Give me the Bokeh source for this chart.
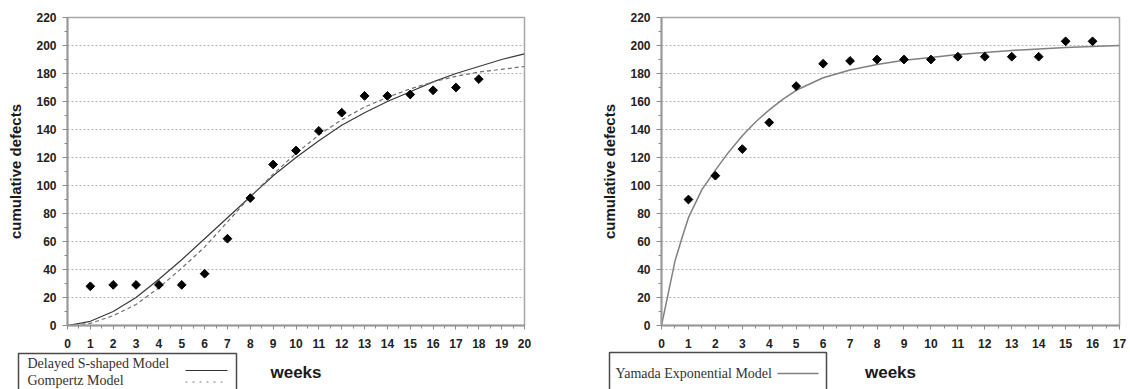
from bokeh.plotting import figure
from bokeh.models import Range1d, FixedTicker, GridBox
from bokeh.core.properties import value
from bokeh.embed import file_html
from bokeh.resources import INLINE

# ---------------- data ----------------
# Left chart: observed cumulative defects per week
weeks_left = list(range(1, 19))
defects_left = [28, 29, 29, 29, 29, 37, 62, 91, 115, 125, 139, 152, 164, 164, 165, 168, 170, 176]
# Left chart: model curves
curve_weeks_left = list(range(0, 21))
delayed_s = [0, 3, 10, 20, 33, 47, 62, 77, 92, 107, 120, 132, 143, 152, 160, 167, 174, 180, 185, 190, 194]
gompertz = [0, 1.5, 7, 15, 27, 41, 56, 74, 92, 108, 123, 136, 147, 156, 163, 169, 174, 178, 181, 183, 185]

# Right chart: observed cumulative defects per week
weeks_right = list(range(1, 17))
defects_right = [90, 107, 126, 145, 171, 187, 189, 190, 190, 190, 192, 192, 192, 192, 203, 203]
# Right chart: model curve
curve_weeks_right = [0, 0.25, 0.5, 0.75, 1, 1.5, 2, 2.5, 3, 3.5, 4, 4.5, 5, 6, 7, 8, 9, 10, 11, 12, 13, 14, 15, 16, 17]
yamada = [0, 23, 46, 62, 77, 97, 111, 124, 135.5, 145.5, 154, 161.5, 168, 177, 182.5, 186.5, 189.5, 191.5,
          193.5, 195, 196.5, 197.5, 198.5, 199.2, 200]

y_ticks = list(range(0, 221, 20))
y_label = "cumulative defects"
x_label = "weeks"
legend_left = ["Delayed S-shaped Model", "Gompertz Model"]
legend_right = ["Yamada Exponential Model"]

SANS = "Liberation Sans"
SERIF = "Liberation Serif"
FIG_H = 389
TOP = 17
BOTTOM = 64


def make_fig(width, x_end, left, right):
    p = figure(width=width, height=FIG_H, x_range=Range1d(0, x_end), y_range=Range1d(0, 220),
               output_backend="svg", toolbar_location=None,
               min_border_left=left, min_border_right=right, min_border_top=TOP, min_border_bottom=BOTTOM)
    p.frame_align = False
    p.background_fill_color = "white"
    p.border_fill_color = "white"
    p.outline_line_color = "#a8a8a8"
    p.outline_line_width = 1.5
    p.xgrid.visible = False
    p.ygrid.ticker = FixedTicker(ticks=y_ticks[1:-1])
    p.ygrid.grid_line_color = "#b5b5b5"
    p.ygrid.grid_line_dash = "2 2"
    p.ygrid.grid_line_width = 1
    p.xaxis.ticker = FixedTicker(ticks=list(range(0, x_end + 1)),
                                 minor_ticks=[i + 0.5 for i in range(x_end)])
    p.yaxis.ticker = FixedTicker(ticks=y_ticks, minor_ticks=list(range(10, 220, 20)))
    for ax in (p.xaxis[0], p.yaxis[0]):
        ax.axis_line_color = "#9a9a9a"
        ax.axis_line_width = 2
        ax.major_tick_line_color = "#8a8a8a"
        ax.minor_tick_line_color = "#8a8a8a"
        ax.major_tick_in = 0
        ax.minor_tick_in = 0
        ax.major_label_text_font = SANS
        ax.major_label_text_font_style = "bold"
        ax.major_label_text_font_size = "12px"
        ax.major_label_text_color = "#222222"
        ax.axis_label_text_font = SANS
        ax.axis_label_text_font_style = "bold"
        ax.axis_label_text_color = "#1a1a1a"
    p.yaxis.major_tick_out = 5
    p.yaxis.minor_tick_out = 3
    p.yaxis.major_label_standoff = 6
    p.yaxis.axis_label = y_label
    p.yaxis.axis_label_text_font_size = "15px"
    p.yaxis.axis_label_standoff = 9
    p.xaxis.major_tick_out = 4
    p.xaxis.minor_tick_out = 3
    p.xaxis.major_label_standoff = 9
    p.xaxis.axis_label = x_label
    p.xaxis.axis_label_text_font_size = "17px"
    p.xaxis.axis_label_standoff = 12
    return p


def make_overlay(width):
    # transparent, pixel-addressed layer (y grows downward) for the legends under the axes
    o = figure(width=width, height=FIG_H, x_range=Range1d(0, width), y_range=Range1d(FIG_H, 0),
               output_backend="svg", toolbar_location=None, x_axis_type=None, y_axis_type=None,
               min_border=0)
    o.frame_align = False
    o.grid.visible = False
    o.outline_line_color = None
    o.background_fill_alpha = 0
    o.border_fill_alpha = 0
    return o


# ---------------- left chart ----------------
L_W, L_LEFT, L_RIGHT = 566, 67, 42
pl = make_fig(L_W, 20, L_LEFT, L_RIGHT)
pl.line(curve_weeks_left, delayed_s, line_color="#3a3a3a", line_width=1.2)
pl.line(curve_weeks_left, gompertz, line_color="#707070", line_width=1.2, line_dash="4 3")
pl.scatter(weeks_left, defects_left, marker="square", angle=0.785398, size=6.2,
           fill_color="black", line_color="black")

# ---------------- right chart ----------------
R_W, R_LEFT, R_RIGHT = 564, 95, 11
pr = make_fig(R_W, 17, R_LEFT, R_RIGHT)
pr.line(curve_weeks_right, yamada, line_color="#808080", line_width=1.5)
pr.scatter(weeks_right, defects_right, marker="square", angle=0.785398, size=6.2,
           fill_color="black", line_color="black")

# ---------------- legends ----------------
ol = make_overlay(L_W)
ol.quad(left=[18], right=[236], top=[353], bottom=[400], fill_alpha=0, line_color="#4a4a4a", line_width=1.5)
ol.text(x=[27, 27], y=[363, 379.5], text=legend_left, text_font=value(SERIF), text_font_size=value("14px"),
        text_baseline="middle", text_align="left", text_color="#333333")
ol.line(x=[185, 227], y=[370, 370], line_color="#333333", line_width=1.2)
ol.line(x=[185, 227], y=[381.5, 381.5], line_color="#808080", line_width=1.2, line_dash="2 5")

orr = make_overlay(R_W)
orr.quad(left=[43], right=[260], top=[352], bottom=[400], fill_alpha=0, line_color="#4a4a4a", line_width=1.5)
orr.text(x=[49], y=[372.5], text=legend_right, text_font=value(SERIF), text_font_size=value("14px"),
         text_baseline="middle", text_align="left", text_color="#333333")
orr.line(x=[211, 252], y=[373, 373], line_color="#808080", line_width=1.5)

layout = GridBox(children=[(pl, 0, 0), (ol, 0, 0), (pr, 0, 1), (orr, 0, 1)])
open("out.html", "w").write(file_html(layout, INLINE))
